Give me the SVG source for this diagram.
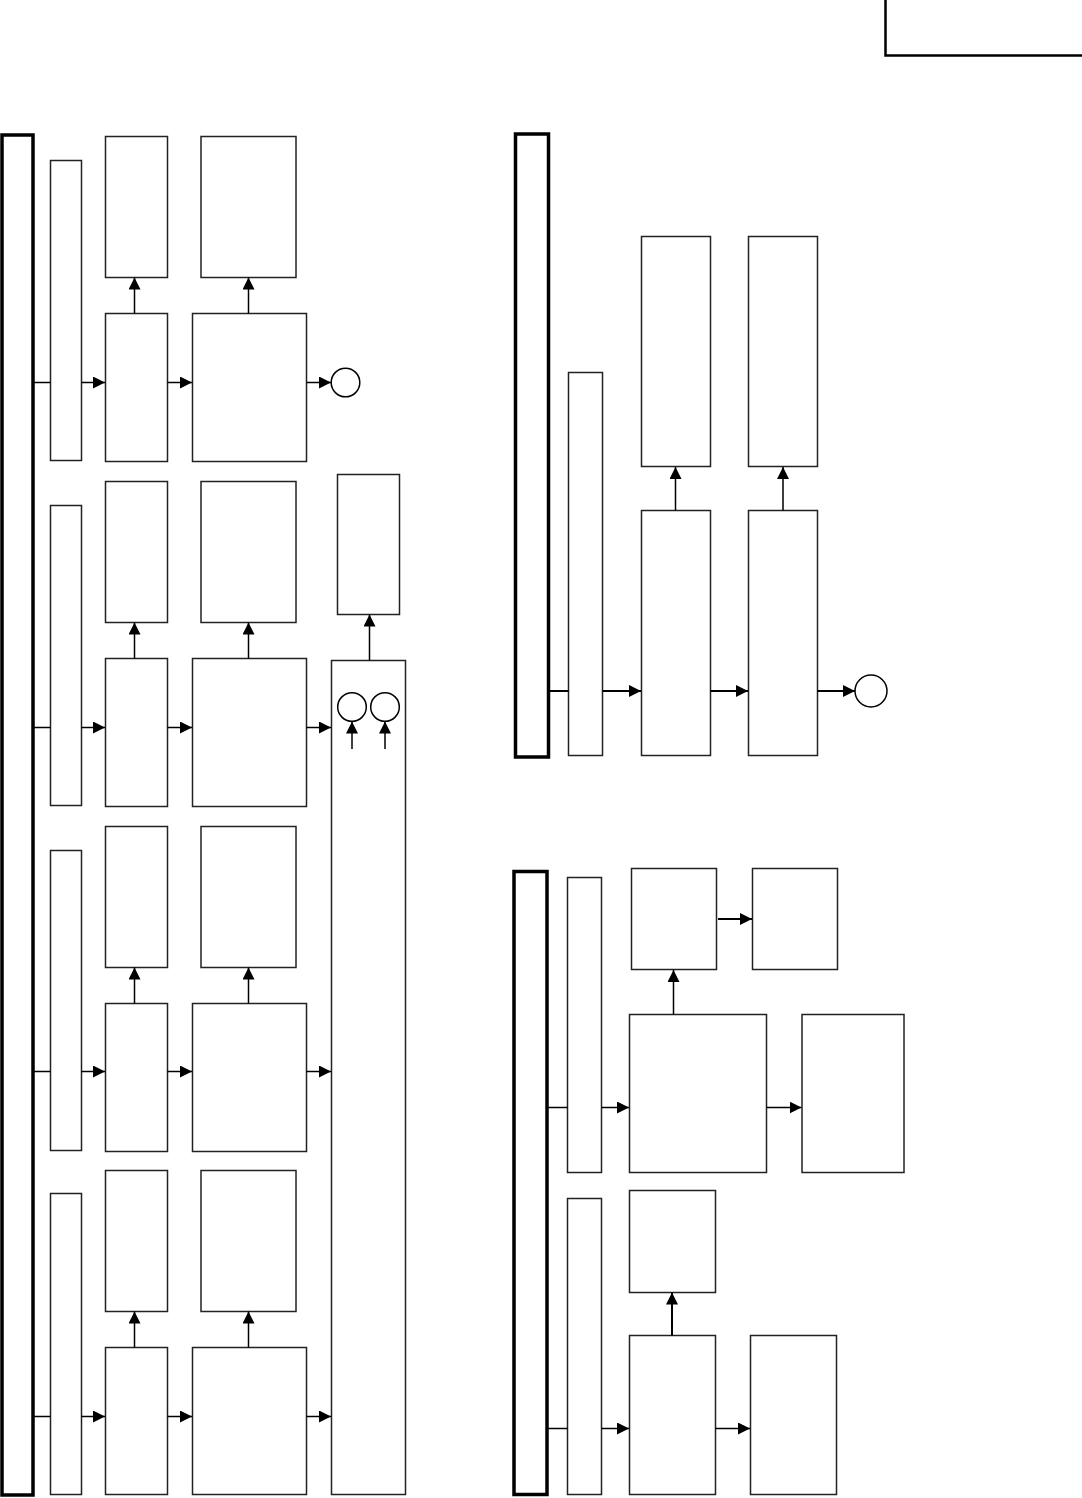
<svg xmlns="http://www.w3.org/2000/svg" width="1082" height="1498" viewBox="0 0 1082 1498">
<style>
.b{fill:#fff;stroke:#222;stroke-width:1.5}
.t{fill:#fff;stroke:#000;stroke-width:3.5}
.c{fill:none;stroke:#000;stroke-width:1.5}
.c2{fill:none;stroke:#000;stroke-width:2}
.w{fill:#fff;stroke:#000;stroke-width:1.5}
</style>
<defs>
<marker id="a" markerUnits="userSpaceOnUse" viewBox="0 0 12 12" refX="12" refY="6" markerWidth="12" markerHeight="12" orient="auto"><path d="M0,0L12,6L0,12z" fill="#000"/></marker>
</defs>
<rect width="1082" height="1498" fill="#fff"/>
<g id="header"><path d="M885.5,0V55.5H1082" fill="none" stroke="#000" stroke-width="2.5"/></g>

<!-- LEFT PANEL -->
<g id="bus-left"><rect class="t" x="2" y="135" width="31" height="1360"/></g>

<g id="row1">
<rect class="b" x="50.5" y="160.5" width="31" height="300"/>
<rect class="b" x="105.5" y="136.5" width="62" height="141"/>
<rect class="b" x="201" y="136.5" width="95" height="141"/>
<rect class="b" x="105.5" y="313.5" width="62" height="148"/>
<rect class="b" x="192.5" y="313.5" width="114" height="148"/>
<circle class="w" cx="345.5" cy="382.5" r="14.3"/>
</g>
<g id="row2">
<rect class="b" x="50.5" y="505.5" width="31" height="300"/>
<rect class="b" x="105.5" y="481.5" width="62" height="141"/>
<rect class="b" x="201" y="481.5" width="95" height="141"/>
<rect class="b" x="105.5" y="658.5" width="62" height="148"/>
<rect class="b" x="192.5" y="658.5" width="114" height="148"/>
</g>
<g id="row3">
<rect class="b" x="50.5" y="850.5" width="31" height="300"/>
<rect class="b" x="105.5" y="826.5" width="62" height="141"/>
<rect class="b" x="201" y="826.5" width="95" height="141"/>
<rect class="b" x="105.5" y="1003.5" width="62" height="148"/>
<rect class="b" x="192.5" y="1003.5" width="114" height="148"/>
</g>
<g id="row4">
<rect class="b" x="50.5" y="1193.5" width="31" height="301"/>
<rect class="b" x="105.5" y="1170.5" width="62" height="141"/>
<rect class="b" x="201" y="1170.5" width="95" height="141"/>
<rect class="b" x="105.5" y="1347.5" width="62" height="147"/>
<rect class="b" x="192.5" y="1347.5" width="114" height="147"/>
</g>
<g id="collector">
<rect class="b" x="331.5" y="660.5" width="74" height="834"/>
<rect class="b" x="337.5" y="474.5" width="62" height="140"/>
<circle class="w" cx="352" cy="707" r="14.3"/>
<circle class="w" cx="385" cy="707" r="14.3"/>
</g>

<!-- RIGHT TOP PANEL -->
<g id="bus-rt"><rect class="t" x="515.5" y="134" width="33" height="623"/></g>
<g id="rt-nodes">
<rect class="b" x="568.5" y="372.5" width="34" height="383"/>
<rect class="b" x="641.5" y="236.5" width="69" height="230"/>
<rect class="b" x="748.5" y="236.5" width="69" height="230"/>
<rect class="b" x="641.5" y="510.5" width="69" height="245"/>
<rect class="b" x="748.5" y="510.5" width="69" height="245"/>
<circle class="w" cx="871" cy="691" r="16"/>
</g>

<!-- RIGHT BOTTOM PANEL -->
<g id="bus-rb"><rect class="t" x="514" y="871.5" width="33" height="623"/></g>
<g id="rb-nodes">
<rect class="b" x="567.5" y="877.5" width="34" height="295"/>
<rect class="b" x="631.5" y="868.5" width="85" height="101"/>
<rect class="b" x="752.5" y="868.5" width="85" height="101"/>
<rect class="b" x="629.5" y="1014.5" width="137" height="158"/>
<rect class="b" x="802" y="1014.5" width="102" height="158"/>
<rect class="b" x="567.5" y="1198.5" width="34" height="296"/>
<rect class="b" x="629.5" y="1190.5" width="86" height="102"/>
<rect class="b" x="629.5" y="1335.5" width="86" height="159"/>
<rect class="b" x="750.5" y="1335.5" width="86" height="159"/>
</g>

<g id="connectors">
<!-- left rows -->
<path class="c" d="M33,382.5H50.5"/>
<path class="c" d="M81.5,382.5H105" marker-end="url(#a)"/>
<path class="c" d="M167.5,382.5H192" marker-end="url(#a)"/>
<path class="c" d="M306.5,382.5H331" marker-end="url(#a)"/>
<path class="c" d="M134.5,313.5V277.5" marker-end="url(#a)"/>
<path class="c" d="M248.5,313.5V277.5" marker-end="url(#a)"/>

<path class="c" d="M33,727.5H50.5"/>
<path class="c" d="M81.5,727.5H105" marker-end="url(#a)"/>
<path class="c" d="M167.5,727.5H192" marker-end="url(#a)"/>
<path class="c" d="M306.5,727.5H331" marker-end="url(#a)"/>
<path class="c" d="M134.5,658.5V622.5" marker-end="url(#a)"/>
<path class="c" d="M248.5,658.5V622.5" marker-end="url(#a)"/>

<path class="c" d="M33,1071.5H50.5"/>
<path class="c" d="M81.5,1071.5H105" marker-end="url(#a)"/>
<path class="c" d="M167.5,1071.5H192" marker-end="url(#a)"/>
<path class="c" d="M306.5,1071.5H331" marker-end="url(#a)"/>
<path class="c" d="M134.5,1003.5V967.5" marker-end="url(#a)"/>
<path class="c" d="M248.5,1003.5V967.5" marker-end="url(#a)"/>

<path class="c" d="M33,1416.5H50.5"/>
<path class="c" d="M81.5,1416.5H105" marker-end="url(#a)"/>
<path class="c" d="M167.5,1416.5H192" marker-end="url(#a)"/>
<path class="c" d="M306.5,1416.5H331" marker-end="url(#a)"/>
<path class="c" d="M134.5,1347.5V1311.5" marker-end="url(#a)"/>
<path class="c" d="M248.5,1347.5V1311.5" marker-end="url(#a)"/>

<path class="c" d="M369.5,660.5V614.5" marker-end="url(#a)"/>
<path class="c" d="M352,749V721.5" marker-end="url(#a)"/>
<path class="c" d="M385,749V721.5" marker-end="url(#a)"/>

<!-- right top -->
<path class="c2" d="M549,691H568.5"/>
<path class="c2" d="M602.5,691H641" marker-end="url(#a)"/>
<path class="c2" d="M710.5,691H748" marker-end="url(#a)"/>
<path class="c2" d="M817.5,691H855" marker-end="url(#a)"/>
<path class="c" d="M675.5,510.5V467" marker-end="url(#a)"/>
<path class="c" d="M783,510.5V467" marker-end="url(#a)"/>

<!-- right bottom -->
<path class="c" d="M547,1107.5H567.5"/>
<path class="c" d="M601.5,1107.5H629" marker-end="url(#a)"/>
<path class="c" d="M766.5,1107.5H801.5" marker-end="url(#a)"/>
<path class="c" d="M673.5,1014.5V970" marker-end="url(#a)"/>
<path class="c2" d="M718,919H752" marker-end="url(#a)"/>

<path class="c" d="M547,1428.5H567.5"/>
<path class="c" d="M601.5,1428.5H629" marker-end="url(#a)"/>
<path class="c" d="M715.5,1428.5H750" marker-end="url(#a)"/>
<path class="c2" d="M672,1335.5V1292.5" marker-end="url(#a)"/>
</g>
</svg>
